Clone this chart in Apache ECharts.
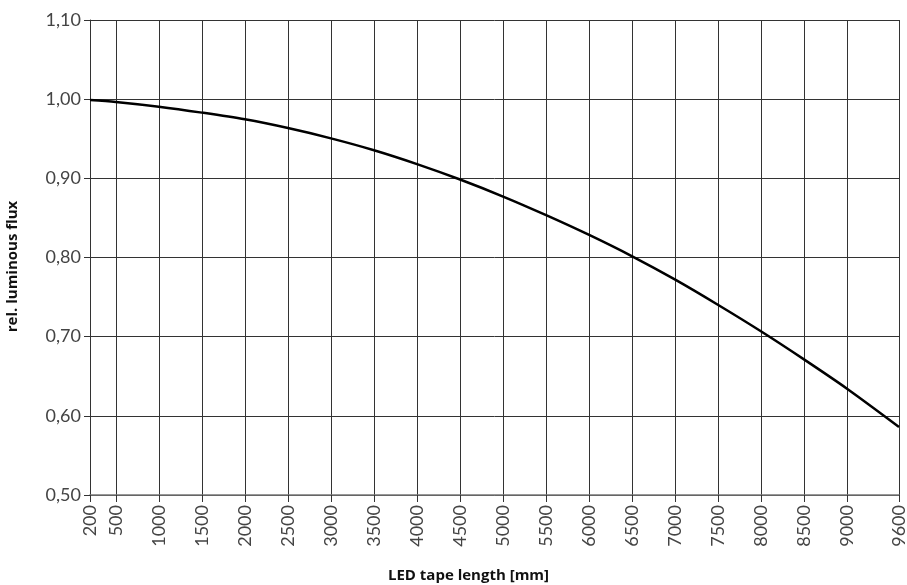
<!DOCTYPE html>
<html>
<head>
<meta charset="utf-8">
<script src="https://cdn.jsdelivr.net/npm/echarts@6/dist/echarts.min.js"></script>
<style>html,body{margin:0;padding:0;background:#fff}#c{width:907px;height:585px}</style>
</head>
<body>
<div id="c"></div>
<script>
var lengths = [200, 500, 1000, 1500, 2000, 2500, 3000, 3500, 4000, 4500, 5000, 5500, 6000, 6500, 7000, 7500, 8000, 8500, 9000, 9600];
var flux = [0.999, 0.9965, 0.9905, 0.983, 0.9745, 0.9635, 0.9505, 0.9355, 0.918, 0.8985, 0.877, 0.8535, 0.8285, 0.8015, 0.772, 0.740, 0.7065, 0.671, 0.634, 0.586];
var xTicks = [200, 500, 1000, 1500, 2000, 2500, 3000, 3500, 4000, 4500, 5000, 5500, 6000, 6500, 7000, 7500, 8000, 8500, 9000, 9600];

var chart = echarts.init(document.getElementById('c'));
var gridColor = '#333';
chart.setOption({
  animation: false,
  grid: {left: 90, right: 8, top: 20, bottom: 90, outerBoundsMode: 'none', containLabel: false},
  xAxis: {
    type: 'value', min: 200, max: 9600,
    name: 'LED tape length [mm]', nameLocation: 'middle', nameGap: 73,
    nameTextStyle: {fontFamily: 'Open Sans', fontWeight: 'bold', fontSize: 15, color: '#111', padding: [0, 52, 0, 0]},
    axisLine: {show: true, lineStyle: {color: '#777', width: 1.5}},
    axisTick: {show: true, length: 7, customValues: xTicks, lineStyle: {color: gridColor}},
    axisLabel: {customValues: xTicks, rotate: 90, margin: 10, fontFamily: 'Lato', fontSize: 18, color: '#444',
      formatter: function (v) { return String(v); }},
    splitLine: {show: true, lineStyle: {color: gridColor, width: 1}}
  },
  yAxis: {
    type: 'value', min: 0.5, max: 1.1, interval: 0.1,
    name: 'rel. luminous flux', nameLocation: 'middle', nameGap: 70,
    nameTextStyle: {fontFamily: 'Open Sans', fontWeight: 'bold', fontSize: 15, color: '#111', padding: [0, 18, 0, 0]},
    axisLine: {show: true, lineStyle: {color: gridColor, width: 1}},
    axisTick: {show: true, length: 6, lineStyle: {color: gridColor}},
    axisLabel: {margin: 9, fontFamily: 'Lato', fontSize: 18, color: '#444',
      formatter: function (v) { return v.toFixed(2).replace('.', ','); }},
    splitLine: {show: true, lineStyle: {color: gridColor, width: 1}}
  },
  series: [{
    type: 'line', smooth: 0.3, symbol: 'none',
    data: lengths.map(function (x, i) { return [x, flux[i]]; }),
    lineStyle: {color: '#000', width: 2.5}
  }]
});
</script>
</body>
</html>
